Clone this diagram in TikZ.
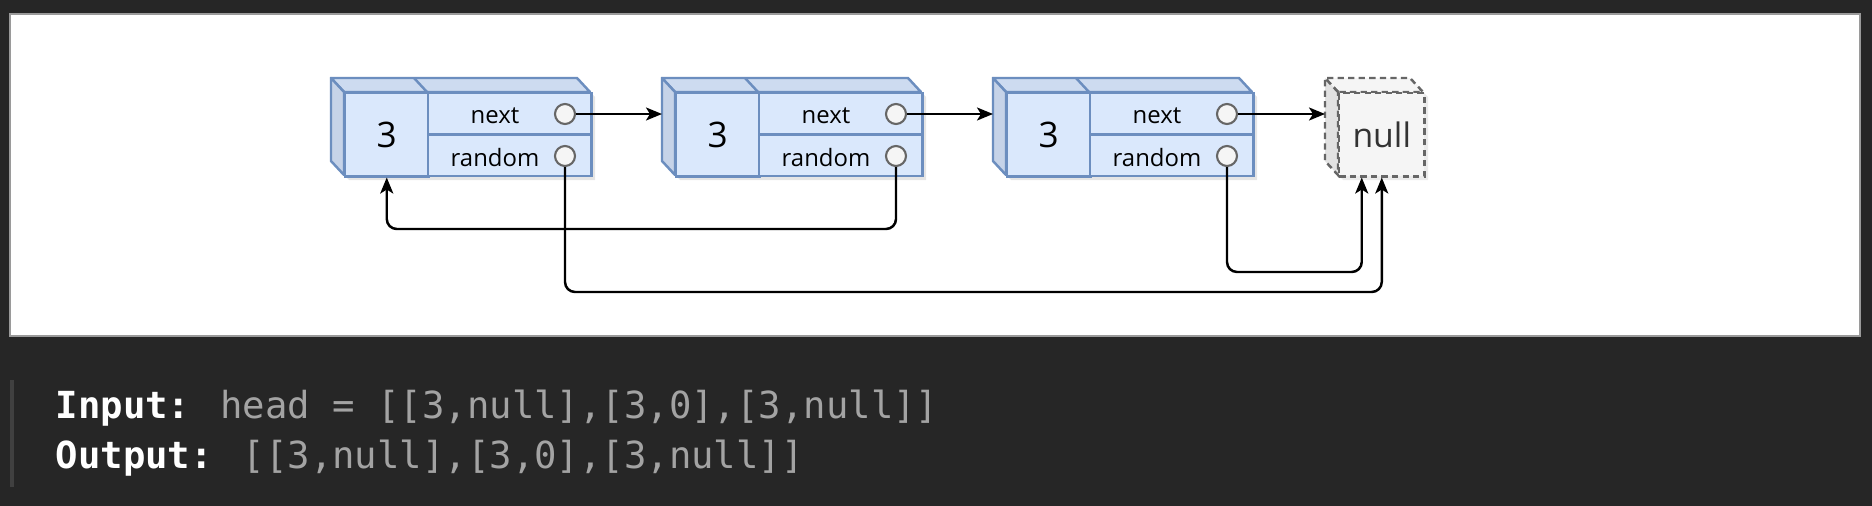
\documentclass[tikz,border=0pt]{standalone}
\usepackage{fontspec}
\newfontfamily\diagfont{Open Sans}
\newfontfamily\codefont{DejaVu Sans Mono}
\usetikzlibrary{positioning, arrows.meta}

\definecolor{pagebg}{HTML}{262626}
\definecolor{panelline}{HTML}{9A9A9A}
\definecolor{quotebar}{HTML}{404040}
\definecolor{cellfill}{HTML}{DAE8FC}
\definecolor{celltop}{HTML}{CDDBF0}
\definecolor{cellside}{HTML}{C6D3E8}
\definecolor{cellline}{HTML}{6C8EBF}
\definecolor{portfill}{HTML}{F5F5F5}
\definecolor{portline}{HTML}{666666}
\definecolor{nullfill}{HTML}{F5F5F5}
\definecolor{nullside}{HTML}{E2E2E2}
\definecolor{nulltext}{HTML}{333333}
\definecolor{codegrey}{HTML}{A3A3A3}

% one list cell drawn as a box: #1 = index, #2 = left edge of its front face
\newcommand{\listnode}[2]{%
  \begin{scope}[shift={(#2,0)}]
    \fill[black, opacity=0.1] (-8,83) -- (238,83) -- (251,97) -- (251,180) -- (5,180) -- (-8,166) -- cycle;
    \filldraw[fill=celltop, draw=cellline, line width=0.7pt, line join=round] (0,92) -- (-13,78) -- (233,78) -- (246,92) -- cycle;
    \filldraw[fill=cellside, draw=cellline, line width=0.7pt, line join=round] (0,92) -- (-13,78) -- (-13,161) -- (0,175) -- cycle;
    \draw[cellline, line width=0.7pt] (83,92) -- (70,78);
    \node[cell, minimum width=0.83cm, minimum height=0.83cm, font=\diagfont\fontsize{10}{12}\selectfont] (v#1) at (0,92) {3};
    \node[cell, minimum width=1.63cm, minimum height=0.41cm] (n#1) at (83,92) {};
    \node[cell, minimum width=1.63cm, minimum height=0.41cm] (r#1) at (83,134) {};
    \node[fieldtext] (nt#1) at (151,116) {next};
    \node[fieldtext] (rt#1) at (151,158) {random};
    \node[port] (np#1) at (221,114) {};
    \node[port] (rp#1) at (221,156) {};
    \coordinate (in#1) at (-13,115);
  \end{scope}}

\begin{document}
\begin{tikzpicture}[x=0.01cm, y=-0.01cm]
  \tikzset{cell/.style = {draw=cellline, fill=cellfill, line width=0.7pt, inner sep=0pt, anchor=north west}}
  \tikzset{port/.style = {circle, draw=portline, fill=portfill, line width=0.6pt, minimum size=0.2cm, inner sep=0pt}}
  \tikzset{fieldtext/.style = {font=\diagfont\fontsize{6.8}{8}\selectfont, inner sep=0pt}}
  \tikzset{link/.style = {-{Stealth[length=0.16cm, width=0.13cm, inset=0.04cm]}, line width=0.7pt, rounded corners=0.1cm}}
  \tikzset{codeline/.style = {anchor=base west, inner sep=0pt, font=\codefont\fontsize{10.6}{13}\selectfont}}

  \useasboundingbox (0,0) rectangle (1872,506);
  \fill[pagebg] (0,0) rectangle (1872,506);
  \filldraw[fill=white, draw=panelline, line width=0.3pt] (10,14) rectangle (1860,336);
  \fill[quotebar] (10,380) rectangle (14,487);

  % the three cells
  \listnode{1}{344}
  \listnode{2}{675}
  \listnode{3}{1006}

  % null box
  \fill[black, opacity=0.08] (1330,83) -- (1415,83) -- (1428,97) -- (1428,180) -- (1343,180) -- (1330,166) -- cycle;
  \filldraw[fill=nullfill, draw=portline, line width=0.7pt, dash pattern=on 1.8pt off 1.2pt] (1338,92) -- (1325,78) -- (1410,78) -- (1423,92) -- cycle;
  \filldraw[fill=nullside, draw=portline, line width=0.7pt, dash pattern=on 1.8pt off 1.2pt] (1338,92) -- (1325,78) -- (1325,161) -- (1338,175) -- cycle;
  \node[anchor=north west, draw=portline, fill=nullfill, line width=0.7pt, dash pattern=on 1.8pt off 1.2pt,
        minimum width=0.85cm, minimum height=0.83cm, inner sep=0pt, text=nulltext,
        font=\diagfont\fontsize{9.6}{11}\selectfont] (nullbox) at (1338,92) {null};
  \coordinate (nullin) at (1325,116);
  \coordinate (nulltip) at ([xshift=-0.2cm]nullbox.south);

  % next pointers
  \draw[link] (np1.east) -- (np1.east -| in2);
  \draw[link] (np2.east) -- (np2.east -| in3);
  \draw[link] (np3.east) -- (np3.east -| nullin);

  % random pointers
  \coordinate (lane1) at (0,229);
  \coordinate (lane2) at (0,272);
  \coordinate (lane3) at (0,292);
  \draw[link] (rp2.south) |- (v1.south |- lane1) -- (v1.south);
  \draw[link] (rp3.south) |- (nulltip |- lane2) -- (nulltip);
  \draw[link] (rp1.south) |- (nullbox.south |- lane3) -- (nullbox.south);

  % example text
  \node[codeline] (inputline) at (55,418) {\textcolor{white}{\bfseries Input:} \textcolor{codegrey}{head = [[3,null],[3,0],[3,null]]}};
  \node[codeline] (outputline) at (55,468) {\textcolor{white}{\bfseries Output:} \textcolor{codegrey}{[[3,null],[3,0],[3,null]]}};
\end{tikzpicture}
\end{document}
